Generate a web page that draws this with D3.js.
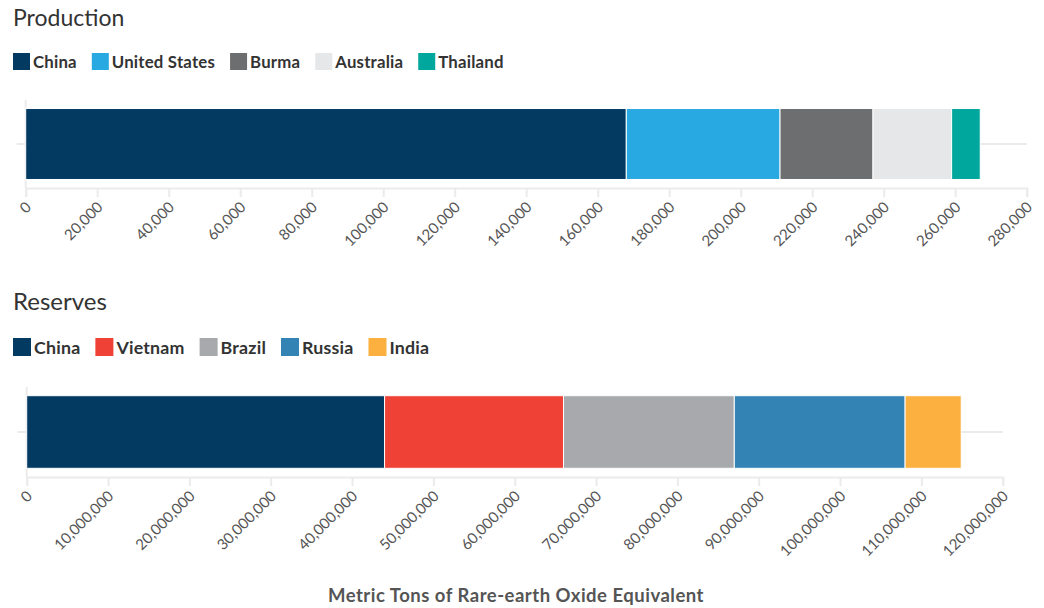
<!DOCTYPE html>
<html>
<head>
<meta charset="utf-8">
<script src="https://cdn.jsdelivr.net/npm/d3@7"></script>
<style>
  html, body { margin: 0; padding: 0; background: #fff; }
  svg { display: block; font-family: Lato, "Noto Sans", sans-serif; }
</style>
</head>
<body>
<svg id="chart" width="1044" height="608"></svg>
<script>
// ---- Data ----
const productionCountries = ["China", "United States", "Burma", "Australia", "Thailand"];
const productionValues = [168000, 43000, 26000, 22000, 8000];
const productionColors = ["#023a62", "#29a9e1", "#6d6e70", "#e6e7e8", "#00a79d"];
const productionTicks = [0, 20000, 40000, 60000, 80000, 100000, 120000, 140000, 160000, 180000, 200000, 220000, 240000, 260000, 280000];

const reservesCountries = ["China", "Vietnam", "Brazil", "Russia", "India"];
const reservesValues = [44000000, 22000000, 21000000, 21000000, 6900000];
const reservesColors = ["#023a62", "#ef4136", "#a7a9ac", "#3383b4", "#fbb040"];
const reservesTicks = [0, 10000000, 20000000, 30000000, 40000000, 50000000, 60000000, 70000000, 80000000, 90000000, 100000000, 110000000, 120000000];

const axisTitle = "Metric Tons of Rare-earth Oxide Equivalent";

const svg = d3.select("#chart");
const fmt = d3.format(",");

function drawChart(cfg) {
  const g = svg.append("g");
  // Title
  g.append("text")
    .attr("x", 13).attr("y", cfg.titleY)
    .attr("font-size", cfg.titleSize)
    .attr("fill", "#333")
    .text(cfg.title);

  // Legend
  let lx = 13;
  cfg.countries.forEach((c, i) => {
    g.append("rect")
      .attr("x", lx).attr("y", cfg.legendY)
      .attr("width", cfg.sw).attr("height", cfg.sw)
      .attr("fill", cfg.colors[i]);
    const t = g.append("text")
      .attr("x", lx + cfg.sw + 3).attr("y", cfg.legendY + cfg.sw - 2)
      .attr("font-size", cfg.legendSize)
      .attr("font-weight", "bold")
      .attr("letter-spacing", 0.2)
      .attr("fill", "#333")
      .text(c);
    lx += cfg.sw + 3 + t.node().getComputedTextLength() + 15;
  });

  const x = d3.scaleLinear().domain(cfg.domain).range(cfg.xRange);
  const y = d3.scaleBand().domain([cfg.title]).range(cfg.yRange).paddingInner(0).paddingOuter(0.12);
  const axisY = cfg.yRange[1];
  const grid = "#ebebeb";

  // Gridline at band center
  g.append("line")
    .attr("x1", cfg.xRange[0] - 9).attr("x2", cfg.xRange[1])
    .attr("y1", y(cfg.title) + y.bandwidth() / 2).attr("y2", y(cfg.title) + y.bandwidth() / 2)
    .attr("stroke", grid).attr("stroke-width", 2);

  // y axis line
  g.append("line")
    .attr("x1", cfg.xRange[0]).attr("x2", cfg.xRange[0])
    .attr("y1", cfg.yRange[0]).attr("y2", axisY)
    .attr("stroke", grid).attr("stroke-width", 2);

  // Stacked bars
  const stackData = [Object.fromEntries(cfg.countries.map((c, i) => [c, cfg.values[i]]))];
  const series = d3.stack().keys(cfg.countries)(stackData);
  g.selectAll("rect.bar").data(series).join("rect")
    .attr("class", "bar")
    .attr("x", d => x(d[0][0]))
    .attr("width", d => x(d[0][1]) - x(d[0][0]))
    .attr("y", y(cfg.title))
    .attr("height", y.bandwidth())
    .attr("fill", (d, i) => cfg.colors[i])
    .attr("stroke", "#fff").attr("stroke-width", 1);

  // x axis
  const ax = g.append("g").attr("transform", `translate(0,${axisY})`)
    .call(d3.axisBottom(x).tickValues(cfg.ticks).tickFormat(fmt).tickSize(9).tickPadding(0));
  ax.select(".domain").attr("stroke", grid).attr("stroke-width", 2);
  ax.selectAll(".tick line").attr("stroke", grid).attr("stroke-width", 2);
  ax.selectAll(".tick text")
    .attr("font-family", "Lato, 'Noto Sans', sans-serif")
    .attr("font-size", cfg.tickSize)
    .attr("fill", "#555")
    .attr("text-anchor", "end")
    .attr("dy", 0)
    .attr("y", 0)
    .attr("transform", "translate(6,20) rotate(-45)");
}

drawChart({
  title: "Production", titleY: 26, titleSize: 23,
  legendY: 53, sw: 17, legendSize: 16.8,
  countries: productionCountries, values: productionValues, colors: productionColors,
  domain: [0, 280000], xRange: [25.7, 1026.7], yRange: [100, 188],
  ticks: productionTicks, tickSize: 15
});

drawChart({
  title: "Reserves", titleY: 309.5, titleSize: 24,
  legendY: 338, sw: 18, legendSize: 17.8,
  countries: reservesCountries, values: reservesValues, colors: reservesColors,
  domain: [0, 120000000], xRange: [26.7, 1002.7], yRange: [387, 477],
  ticks: reservesTicks, tickSize: 15
});

svg.append("text")
  .attr("x", 516).attr("y", 602)
  .attr("text-anchor", "middle")
  .attr("font-size", 18.5)
  .attr("font-weight", "bold")
  .attr("letter-spacing", 0.5)
  .attr("fill", "#555")
  .text(axisTitle);
</script>
</body>
</html>
